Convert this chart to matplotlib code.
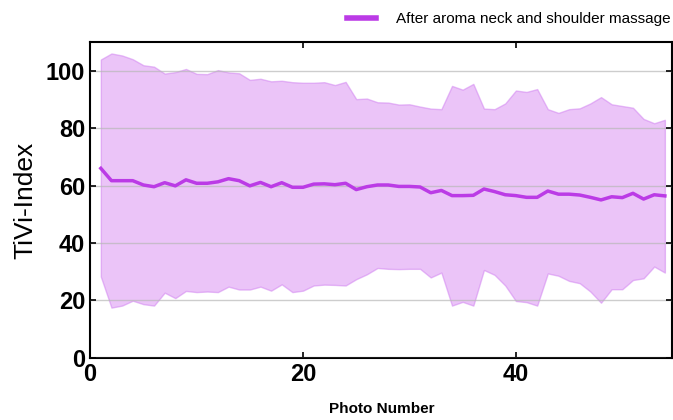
import matplotlib.pyplot as plt
import numpy as np

# TiVi-Index per photo, after aroma neck and shoulder massage
photo = np.arange(1, 55)

mean_vals = [66.0, 61.7, 61.7, 61.7, 60.2, 59.6, 61.0, 59.9, 62.0, 60.8,
             60.8, 61.3, 62.4, 61.7, 59.9, 61.1, 59.6, 61.0, 59.4, 59.4,
             60.5, 60.6, 60.3, 60.8, 58.6, 59.6, 60.2, 60.2, 59.7, 59.7,
             59.5, 57.5, 58.3, 56.5, 56.5, 56.6, 58.8, 57.9, 56.8, 56.5,
             55.9, 55.9, 58.1, 57.0, 57.0, 56.7, 55.9, 55.0, 56.1, 55.8,
             57.3, 55.3, 56.8, 56.4]

upper_vals = [103.9, 106.0, 105.3, 104.0, 101.9, 101.4, 99.0, 99.5, 100.6, 98.9,
              98.8, 100.2, 99.4, 99.1, 96.8, 97.2, 96.3, 96.5, 96.0, 95.8,
              95.8, 96.0, 95.0, 96.1, 90.1, 90.3, 89.0, 88.9, 88.2, 88.3,
              87.5, 86.8, 86.6, 94.7, 93.4, 95.4, 86.8, 86.6, 88.6, 93.1,
              92.6, 93.6, 86.6, 85.3, 86.6, 86.9, 88.6, 90.8, 88.3, 87.7,
              87.1, 83.2, 81.7, 82.9]

lower_vals = [28.3, 17.5, 18.2, 19.9, 18.7, 18.2, 22.7, 20.8, 23.3, 22.9,
              23.1, 22.9, 24.8, 23.8, 23.8, 24.8, 23.4, 25.6, 22.9, 23.4,
              25.2, 25.5, 25.4, 25.2, 27.4, 29.1, 31.3, 31.0, 30.9, 31.0,
              31.0, 28.0, 29.7, 18.2, 19.5, 18.2, 30.6, 28.9, 25.2, 19.8,
              19.4, 18.2, 29.4, 28.6, 26.8, 26.0, 23.1, 19.2, 23.9, 23.9,
              27.1, 27.7, 31.8, 29.7]

font = ['Liberation Sans', 'DejaVu Sans']

fig = plt.figure(figsize=(6.73, 4.2), dpi=100)
ax = fig.add_axes([0.134, 0.148, 0.865, 0.752])

ax.set_axisbelow(False)
ax.grid(axis='y', color='#b8b8b8', linewidth=1.0, alpha=0.7)
ax.fill_between(photo, lower_vals, upper_vals, facecolor='#d98af2', alpha=0.5,
                edgecolor='#cf7ef0', linewidth=1.0, zorder=1)
ax.plot(photo, mean_vals, color='#bb3be6', linewidth=2.5, zorder=3,
        label='After aroma neck and shoulder massage')

ax.set_xlim(0, 54.7)
ax.set_ylim(0, 110)
ax.set_xticks([0, 20, 40])
ax.set_yticks([0, 20, 40, 60, 80, 100])
ax.tick_params(direction='in', top=True, right=True, length=4, width=1.2)
for lab in ax.get_xticklabels() + ax.get_yticklabels():
    lab.set_family(font)
    lab.set_fontweight('bold')
    lab.set_fontsize(17)
for sp in ax.spines.values():
    sp.set_linewidth(1.5)

ax.set_ylabel('TiVi-Index', family=font, fontsize=19, labelpad=6)
ax.set_xlabel('Photo Number', family=font, fontweight='bold', fontsize=11, labelpad=12)

leg = ax.legend(loc='lower right', bbox_to_anchor=(1.008, 1.03), frameon=False,
                prop={'family': font, 'size': 11}, handlelength=1.9, handletextpad=1.3,
                borderaxespad=0)
for h in leg.get_lines():
    h.set_linewidth(4)

fig.savefig('out.png', dpi=100)
